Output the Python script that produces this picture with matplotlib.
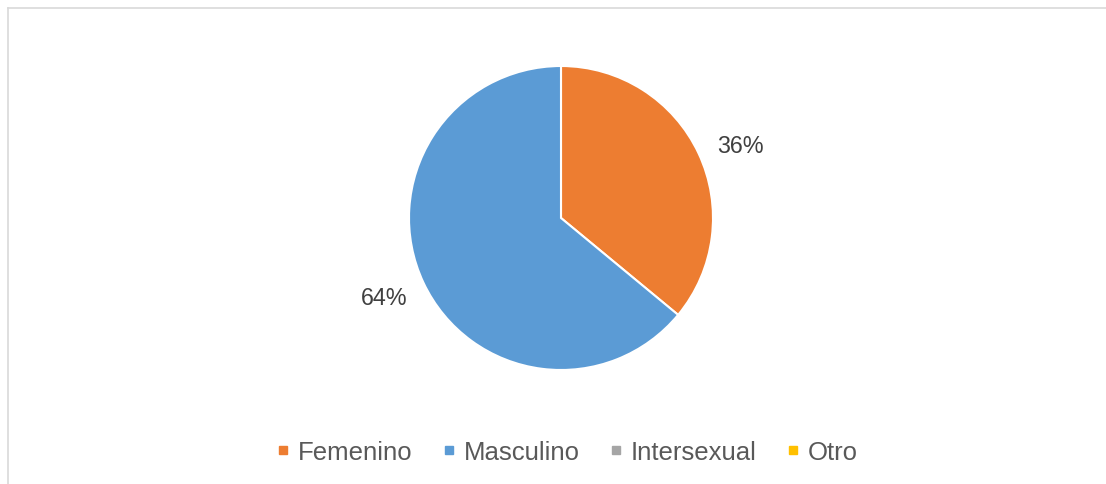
import matplotlib
matplotlib.use("Agg")
import matplotlib.pyplot as plt
from matplotlib.lines import Line2D

categories = ["Femenino", "Masculino", "Intersexual", "Otro"]
values = [36, 64, 0, 0]
colors = ["#ED7D31", "#5B9BD5", "#A5A5A5", "#FFC000"]

plt.rcParams['font.family'] = ['Liberation Sans', 'DejaVu Sans']

W, H = 1106, 485
fig = plt.figure(figsize=(W / 100, H / 100), dpi=100)
fig.patch.set_facecolor("white")

# chart border (only top and left visible)
fig.add_artist(Line2D([8 / W, 8 / W], [0, 1 - 9 / H], color="#D9D9D9", lw=1.2, transform=fig.transFigure))
fig.add_artist(Line2D([8 / W, 1], [1 - 9 / H, 1 - 9 / H], color="#D9D9D9", lw=1.2, transform=fig.transFigure))

cx, cy, r = 561, 219, 152
ax = fig.add_axes([(cx - r) / W, 1 - (cy + r) / H, 2 * r / W, 2 * r / H])

pie_vals = [v for v in values if v > 0]
pie_cols = [c for v, c in zip(values, colors) if v > 0]
wedges, texts, autotexts = ax.pie(
    pie_vals, colors=pie_cols, startangle=90, counterclock=False,
    autopct=lambda p: f"{p:.0f}%", pctdistance=1.28, radius=1,
    wedgeprops=dict(edgecolor="white", linewidth=1.5),
    textprops=dict(fontsize=16.8, color="#404040"),
)
# small nudges to match the label placement
x0, y0 = autotexts[0].get_position()
autotexts[0].set_position((x0 + 0.02, y0 - 0.065))
x1, y1 = autotexts[1].get_position()
autotexts[1].set_position((x1 - 0.005, y1 + 0.02))

ax.set_xlim(-1, 1)
ax.set_ylim(-1, 1)
ax.set_aspect("equal")
ax.axis("off")

handles = [Line2D([0], [0], marker="s", linestyle="none", markersize=5.3,
                  markerfacecolor=c, markeredgecolor=c) for c in colors]
leg = fig.legend(handles, categories, loc="center", ncol=4,
                 bbox_to_anchor=(566.5 / W, 1 - 453 / H), frameon=False,
                 fontsize=18.5, handlelength=0.6, handletextpad=0.27,
                 columnspacing=1.12, borderpad=0, borderaxespad=0)
for t in leg.get_texts():
    t.set_color("#595959")

fig.savefig("out.png", dpi=100, facecolor="white")
